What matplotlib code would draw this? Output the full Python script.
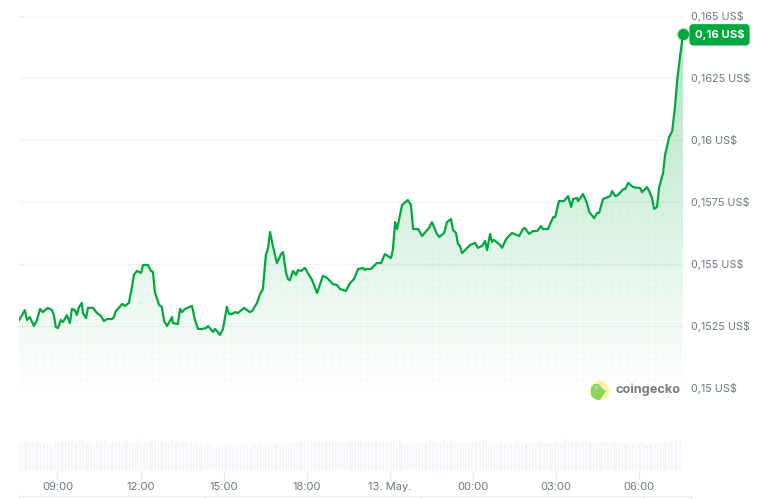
import numpy as np
import matplotlib
matplotlib.use('Agg')
import matplotlib.pyplot as plt
from matplotlib.patches import Polygon, Circle

plt.rcParams['font.family'] = ['Inter', 'DejaVu Sans']

# hours since midnight of the first day
horas = [7.61, 7.68, 7.82, 7.90, 8.00, 8.15, 8.26, 8.37, 8.47, 8.65, 8.80, 8.87, 8.94, 9.02, 9.12, 9.20,
         9.34, 9.45, 9.52, 9.63, 9.70, 9.78, 9.88, 9.92, 10.03, 10.10, 10.28, 10.43, 10.57, 10.68, 10.79, 10.97,
         11.04, 11.11, 11.22, 11.33, 11.44, 11.58, 11.69, 11.76, 11.87, 12.02, 12.09, 12.27, 12.38, 12.45, 12.52, 12.67,
         12.77, 12.85, 12.96, 13.14, 13.17, 13.35, 13.43, 13.50, 13.61, 13.86, 13.97, 14.08, 14.22, 14.37, 14.44, 14.62,
         14.69, 14.76, 14.87, 14.98, 15.12, 15.20, 15.30, 15.41, 15.52, 15.74, 15.95, 16.03, 16.21, 16.32, 16.42, 16.53,
         16.61, 16.68, 16.79, 16.93, 17.08, 17.15, 17.26, 17.33, 17.40, 17.51, 17.62, 17.69, 17.80, 17.94, 18.20, 18.38,
         18.59, 18.74, 18.95, 19.10, 19.21, 19.42, 19.57, 19.71, 19.86, 20.04, 20.11, 20.18, 20.33, 20.54, 20.69, 20.83,
         21.05, 21.12, 21.20, 21.27, 21.45, 21.66, 21.77, 21.85, 22.03, 22.17, 22.42, 22.53, 22.71, 22.79, 22.97, 23.07,
         23.22, 23.29, 23.40, 23.47, 23.54, 23.62, 23.91, 24.09, 24.19, 24.34, 24.45, 24.52, 24.63, 24.70, 24.77, 24.99,
         25.06, 25.21, 25.42, 25.68, 25.82, 25.89, 26.04, 26.18, 26.33, 26.47, 26.54, 26.72, 26.83, 26.91, 26.98, 27.12,
         27.30, 27.45, 27.56, 27.63, 27.77, 27.81, 27.99, 28.13, 28.21, 28.39, 28.50, 28.57, 28.71, 28.89, 28.97, 29.04,
         29.15, 29.25, 29.44, 29.51, 29.62, 29.80, 30.05, 30.12, 30.30, 30.38, 30.48, 30.56, 30.66, 30.74, 30.88, 30.95,
         31.10, 31.21, 31.31, 31.39, 31.50, 31.60]

precios = [.15274, .15286, .15314, .15274, .15286, .15250, .15274, .15319, .15306, .15323, .15314, .15294, .15246, .15242, .15274, .15266,
           .15294, .15262, .15319, .15314, .15294, .15327, .15343, .15302, .15282, .15323, .15323, .15302, .15290, .15270, .15278, .15278,
           .15286, .15310, .15323, .15339, .15331, .15343, .15407, .15456, .15472, .15464, .15496, .15496, .15472, .15468, .15387, .15335,
           .15327, .15270, .15250, .15286, .15262, .15258, .15319, .15306, .15319, .15331, .15274, .15238, .15238, .15242, .15250, .15226,
           .15238, .15230, .15214, .15238, .15327, .15298, .15298, .15306, .15302, .15323, .15306, .15310, .15343, .15379, .15399, .15536,
           .15565, .15629, .15569, .15504, .15540, .15548, .15464, .15439, .15435, .15472, .15456, .15476, .15472, .15484, .15435, .15383,
           .15452, .15444, .15419, .15415, .15399, .15391, .15423, .15439, .15480, .15484, .15476, .15480, .15480, .15504, .15504, .15540,
           .15524, .15560, .15669, .15641, .15738, .15758, .15738, .15641, .15641, .15613, .15645, .15669, .15621, .15609, .15625, .15669,
           .15681, .15637, .15625, .15581, .15573, .15544, .15577, .15585, .15565, .15573, .15593, .15556, .15621, .15589, .15597, .15577,
           .15565, .15601, .15625, .15613, .15641, .15645, .15621, .15633, .15633, .15653, .15641, .15641, .15669, .15689, .15689, .15754,
           .15754, .15774, .15730, .15762, .15766, .15754, .15782, .15746, .15710, .15685, .15706, .15706, .15762, .15770, .15774, .15794,
           .15774, .15778, .15802, .15802, .15827, .15810, .15806, .15790, .15810, .15794, .15766, .15722, .15730, .15810, .15867, .15939,
           .16012, .16036, .16133, .16242, .16343, .16427]

volumen = [29, 29, 30, 30, 28, 30, 29, 30, 28, 29, 27, 29, 26, 30, 29, 28, 30, 30, 29, 30, 27, 29, 30, 31, 28, 30, 29, 26, 30, 27,
           29, 31, 27, 28, 30, 29, 29, 28, 31, 30, 29, 28, 29, 32, 30, 29, 28, 30, 31, 29, 28, 30, 30, 29, 27, 30, 29, 29, 28, 30,
           29, 27, 29, 28, 28, 26, 28, 25, 28, 27, 24, 25, 24, 27, 26, 25, 27, 24, 24, 26, 27, 26, 25, 24, 27, 27, 28, 28, 26, 28,
           28, 27, 28, 27, 28, 28, 27, 28, 28, 29, 29, 30, 30, 31, 31, 30, 30, 29, 30, 30, 29, 30, 30, 29, 30, 30, 29, 29, 30, 30,
           30, 29, 30, 30, 29, 30, 29, 30, 30, 29, 30, 30, 29, 30, 29, 30, 28, 30, 27, 28, 27, 29, 30, 29, 28, 28, 27, 29, 31, 29,
           28, 30, 29, 31, 28, 29, 31, 27, 29, 28, 29, 29, 28, 29, 28, 29, 29, 31, 31, 28, 28, 28, 27, 29, 28, 29, 28, 27, 30, 31,
           29, 29, 28, 27, 29, 29, 28, 29, 29, 28, 29, 28, 27, 29, 29, 28, 29, 33, 29, 29, 28, 29, 28, 29, 30, 29, 29, 28, 29, 29,
           28, 29, 28, 28, 29, 28, 28, 29, 28, 28, 27, 28, 26, 27, 28, 27, 26, 28, 27, 28, 28, 29, 29, 30, 30, 31, 30, 31, 30, 31]

ticks_y = [0.15, 0.1525, 0.155, 0.1575, 0.16, 0.1625, 0.165]
etiquetas_y = ['0,15 US$', '0,1525 US$', '0,155 US$', '0,1575 US$', '0,16 US$', '0,1625 US$', '0,165 US$']
ticks_x = [9, 12, 15, 18, 21, 24, 27, 30]
etiquetas_x = ['09:00', '12:00', '15:00', '18:00', '13. May.', '00:00', '03:00', '06:00']
cortes_nav = [14.33, 22.13, 30.16]

VERDE = '#00a83e'
GRIS = '#6d7787'
W, H = 774, 499


def caja(fig, x0, y0, x1, y1):
    # axes from pixel positions, y measured from the top
    return fig.add_axes([x0 / W, 1 - y1 / H, (x1 - x0) / W, (y1 - y0) / H])


fig = plt.figure(figsize=(7.74, 4.99), dpi=100, facecolor='white')

# price
ax = caja(fig, 19, 16, 683, 388)
ax.set_xlim(horas[0], horas[-1])
ax.set_ylim(0.15, 0.165)
ax.patch.set_alpha(0)
for s in ax.spines.values():
    s.set_visible(False)
ax.yaxis.tick_right()
ax.set_yticks(ticks_y, etiquetas_y)
ax.set_xticks([])
ax.tick_params(axis='y', length=0, pad=5.5, labelsize=7.8, labelcolor=GRIS)
ax.grid(axis='y', color='#f2f3f5', lw=1)
ax.set_axisbelow(True)

# fill under the line, gradient and dots clipped to it
borde = np.column_stack([[horas[0]] + horas + [horas[-1]], [0.15] + precios + [0.15]])
zona = Polygon(borde, closed=True, facecolor='none', edgecolor='none')
ax.add_patch(zona)

gradiente = np.zeros((256, 2, 4))
gradiente[..., :3] = matplotlib.colors.to_rgb(VERDE)
gradiente[..., 3] = np.linspace(0.33, 0, 256)[:, None]
img = ax.imshow(gradiente, extent=[horas[0], horas[-1], 0.15, 0.165], aspect='auto', zorder=1)
img.set_clip_path(zona)

xd, yd = np.meshgrid(np.arange(7.72, 31.7, 0.26), np.arange(0.15031, 0.165, 0.00029))
puntos = ax.scatter(xd.ravel(), yd.ravel(), s=3.2, color=VERDE, alpha=0.04, linewidths=0, zorder=2)
puntos.set_clip_path(zona)

ax.plot(horas, precios, color=VERDE, lw=1.6, zorder=3, solid_joinstyle='round')
ax.plot(horas[-1], precios[-1], 'o', ms=10, color=VERDE, alpha=0.2, mew=0, zorder=4, clip_on=False)
ax.plot(horas[-1], precios[-1], 'o', ms=8, color=VERDE, mew=0, zorder=5, clip_on=False)
ax.annotate('0,16 US$', xy=(horas[-1], precios[-1]), xytext=(26.3, -0.5), textcoords='offset points',
            ha='center', va='center', color='white', fontsize=8.2, fontweight='bold',
            bbox=dict(boxstyle='round,pad=0.42,rounding_size=0.3', fc=VERDE, ec=VERDE, lw=0.5),
            annotation_clip=False, zorder=6)

# volume
ax_vol = caja(fig, 19, 438, 683, 470.5)
ax_vol.set_xlim(horas[0], horas[-1])
ax_vol.set_ylim(0, 32.5)
ax_vol.patch.set_alpha(0)
for s in ax_vol.spines.values():
    s.set_visible(False)
tiempos_vol = np.linspace(horas[0], horas[-1], len(volumen))
ax_vol.bar(tiempos_vol, volumen, width=0.07, color='#f4f6f9', lw=0)
ax_vol.set_yticks([])
ax_vol.set_xticks(ticks_x, etiquetas_x)
ax_vol.tick_params(axis='x', length=6, width=1, color='#e8ebef', pad=2, labelsize=8, labelcolor=GRIS)

# navigator, only its top edge is inside the crop
ax_nav = caja(fig, 19, 496, 691, 499)
ax_nav.set_xlim(horas[0], horas[0] + 672 * 0.03614)
ax_nav.set_ylim(0, 1)
ax_nav.set_xticks([])
ax_nav.set_yticks([])
for nombre, s in ax_nav.spines.items():
    s.set_visible(nombre != 'bottom')
    s.set_color('#eceef2')
for c in cortes_nav:
    ax_nav.axvline(c, color='#eceef2', lw=1)

# logo
capa = fig.add_axes([0, 0, 1, 1])
capa.set_xlim(0, W)
capa.set_ylim(H, 0)
capa.axis('off')
capa.patch.set_alpha(0)
circulo = Circle((599.5, 390.5), 9.7, color='#fdf0a4', lw=0)
capa.add_patch(circulo)
gecko = Polygon([(591, 388), (594, 384), (599, 384), (602, 388), (606, 391), (603, 395), (600, 400), (594, 400), (591, 396)],
                closed=True, color='#8bd65c', lw=0)
capa.add_patch(gecko)
gecko.set_clip_path(circulo)
capa.add_patch(Circle((597, 387.5), 1.4, color='white', lw=0))
capa.add_patch(Circle((597.2, 387.5), 0.7, color='#55604f', lw=0))
capa.text(616, 390, 'coingecko', fontsize=9.2, fontweight='bold', color='#7b7b7b', va='center', ha='left')

plt.savefig('out.png', dpi=100)
